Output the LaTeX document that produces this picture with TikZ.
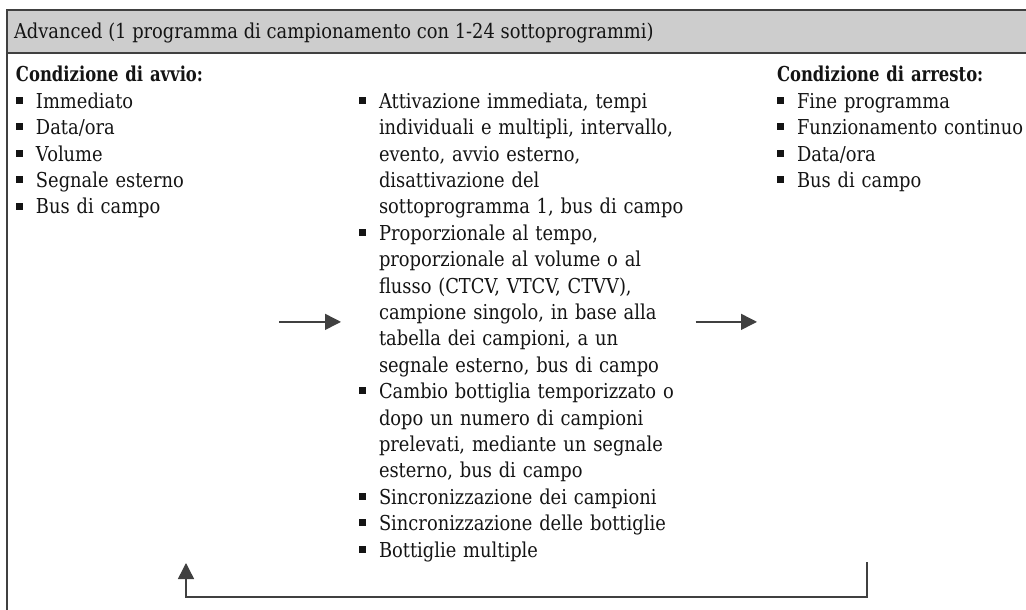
\documentclass[tikz,border=0pt]{standalone}
\usepackage{fontspec}
\setmainfont{DejaVu Serif}[FakeStretch=0.87]
\newfontfamily\headfont{DejaVu Serif}[FakeStretch=0.8, UprightFont={* Bold}]
\usepackage{xcolor}
\usetikzlibrary{arrows.meta, positioning, calc}

\definecolor{framegray}{HTML}{404040}
\definecolor{headgray}{HTML}{CDCDCD}
\definecolor{inkblack}{HTML}{141414}

\newcommand{\sqbul}{\makebox[15pt][l]{\rule[3.3pt]{5.4pt}{5.2pt}}}
\newcommand{\itm}{\par\noindent\hangindent=15pt\hangafter=1\sqbul}

\begin{document}
\begin{tikzpicture}[
    x=0.75pt, y=-0.75pt,
    every node/.style={font=\fontsize{15.4pt}{19.8pt}\selectfont, text=inkblack},
    column/.style={anchor=base west, inner sep=0pt, outer sep=0pt},
    frame/.style={draw=framegray, line width=1.1pt},
    flow/.style={draw=framegray, line width=1.1pt,
                 -{Triangle[length=12pt, width=12pt]}},
]
    \useasboundingbox (0,0) rectangle (1026,610);
    \clip (0,0) rectangle (1026,610);

    % Frame and header band
    \fill[headgray] (7,10) rectangle (1040,53);
    \draw[frame] (1040,10) -- (7,10) -- (7,620);
    \draw[frame] (7,53) -- (1040,53);
    \node[column] (head) at (14,39)
        {Advanced (1 programma di campionamento con 1-24 sottoprogrammi)};

    % Start conditions (left column)
    \node[column, text width=184pt] (startcol) at (16,82) {\raggedright
        {\headfont Condizione di avvio:}
        \itm Immediato
        \itm Data/ora
        \itm Volume
        \itm Segnale esterno
        \itm Bus di campo\par};

    % Sampling program (middle column)
    \node[column, text width=251pt] (progcol) at (359,82) {\raggedright
        \itm Attivazione immediata, tempi\newline
             individuali e multipli, intervallo,\newline
             evento, avvio esterno,\newline
             disattivazione del\newline
             sottoprogramma 1, bus di campo
        \itm Proporzionale al tempo,\newline
             proporzionale al volume o al\newline
             flusso (CTCV, VTCV, CTVV),\newline
             campione singolo, in base alla\newline
             tabella dei campioni, a un\newline
             segnale esterno, bus di campo
        \itm Cambio bottiglia temporizzato o\newline
             dopo un numero di campioni\newline
             prelevati, mediante un segnale\newline
             esterno, bus di campo
        \itm Sincronizzazione dei campioni
        \itm Sincronizzazione delle bottiglie
        \itm Bottiglie multiple\par};

    % Stop conditions (right column)
    \node[column, text width=210pt] (stopcol) at (777,82) {\raggedright
        {\headfont Condizione di arresto:}
        \itm Fine programma
        \itm Funzionamento continuo
        \itm Data/ora
        \itm Bus di campo\par};

    % Flow arrows
    \draw[flow, shorten <=13.5pt, shorten >=13.5pt]
        (startcol.east |- progcol.west) -- (progcol.west);
    \draw[flow, shorten <=1.5pt, shorten >=15pt]
        (progcol.east) -- (progcol.east -| stopcol.west);

    % Return loop
    \coordinate (loopR) at (867,562);
    \coordinate (loopL) at (186,563);
    \draw[flow] (loopR) -- ++(0,35) -| (loopL);
\end{tikzpicture}
\end{document}
